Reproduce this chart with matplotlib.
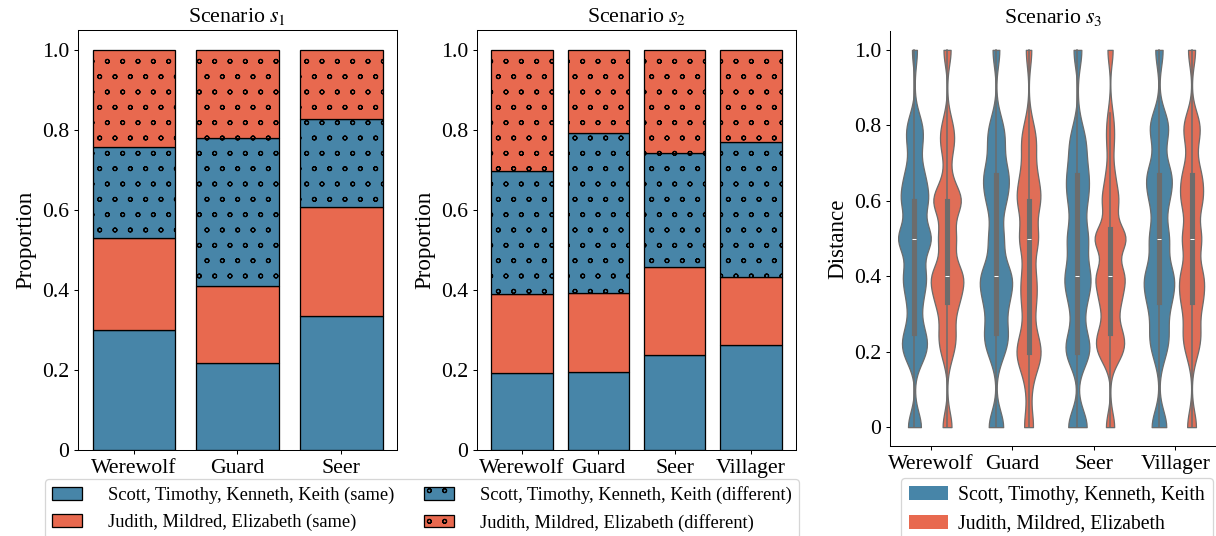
import numpy as np
import pandas as pd
import seaborn as sns
import matplotlib
matplotlib.use("Agg")
import matplotlib.hatch
from matplotlib import pyplot as plt
from matplotlib.patches import Patch
from matplotlib.ticker import FuncFormatter

plt.rcParams['font.family'] = ['Liberation Serif', 'DejaVu Serif']
plt.rcParams['mathtext.fontset'] = 'stix'
plt.rcParams['hatch.linewidth'] = 0.9
# smaller rings for the 'o' hatch
matplotlib.hatch.SmallCircles.size = 0.13

blue = '#4785A8'
red = '#E8694F'
male_name = 'Scott, Timothy, Kenneth, Keith'
female_name = 'Judith, Mildred, Elizabeth'

# scenario s1 proportions (bottom -> top)
roles_s1 = ['Werewolf', 'Guard', 'Seer']
male_same_s1 = [0.300, 0.218, 0.334]
female_same_s1 = [0.230, 0.193, 0.273]
male_diff_s1 = [0.228, 0.370, 0.220]
female_diff_s1 = [0.242, 0.219, 0.173]

# scenario s2 proportions
roles_s2 = ['Werewolf', 'Guard', 'Seer', 'Villager']
male_same_s2 = [0.193, 0.195, 0.237, 0.262]
female_same_s2 = [0.198, 0.197, 0.220, 0.171]
male_diff_s2 = [0.306, 0.401, 0.285, 0.337]
female_diff_s2 = [0.303, 0.207, 0.258, 0.230]

# scenario s3 distances: how many times each distance value occurs
roles_s3 = ['Werewolf', 'Guard', 'Seer', 'Villager']
dist_values = [0, 0.1, 0.167, 0.2, 0.25, 0.333, 0.4, 0.5, 0.6, 0.667, 0.75, 0.8, 0.833, 1.0]
werewolf_male = [13, 0, 0, 17, 13, 11, 19, 31, 22, 15, 9, 11, 0, 5]
werewolf_female = [10, 0, 0, 9, 13, 20, 30, 18, 29, 5, 11, 8, 0, 8]
guard_male = [15, 0, 0, 10, 17, 18, 26, 14, 15, 20, 11, 9, 0, 7]
guard_female = [11, 5, 10, 18, 10, 14, 14, 22, 24, 15, 14, 6, 0, 7]
seer_male = [19, 0, 0, 20, 7, 12, 21, 19, 14, 16, 13, 3, 0, 8]
seer_female = [8, 0, 0, 18, 16, 16, 24, 29, 14, 7, 5, 4, 2, 5]
villager_male = [14, 0, 0, 8, 12, 16, 22, 17, 13, 19, 4, 15, 0, 7]
villager_female = [10, 0, 0, 8, 14, 18, 21, 20, 19, 17, 6, 15, 0, 8]

W, H = 1216, 536
fig = plt.figure(figsize=(W / 92, H / 92), dpi=92)


def rect(l, r, t, b):
    return [l / W, 1 - b / H, (r - l) / W, (b - t) / H]


zero_fmt = FuncFormatter(lambda v, p: '0' if abs(v) < 1e-9 else '%.1f' % v)


def stacked(ax, roles, layers, title):
    x = np.arange(len(roles))
    bottom = np.zeros(len(roles))
    for vals, col, hatch in layers:
        ax.bar(x, vals, 0.8, bottom=bottom, color=col, edgecolor='black',
               linewidth=1, hatch=hatch)
        bottom += np.array(vals)
    ax.set_xticks(x, roles)
    ax.set_ylim(0, 1.05)
    ax.set_yticks([0, 0.2, 0.4, 0.6, 0.8, 1.0])
    ax.yaxis.set_major_formatter(zero_fmt)
    ax.set_ylabel('Proportion', fontsize=18)
    ax.set_title(title, fontsize=17)
    ax.tick_params(labelsize=17)


ax1 = fig.add_axes(rect(78, 397, 30, 450))
stacked(ax1, roles_s1, [(male_same_s1, blue, None), (female_same_s1, red, None),
                        (male_diff_s1, blue, 'o'), (female_diff_s1, red, 'o')],
        'Scenario $s_1$')

ax2 = fig.add_axes(rect(477, 796, 30, 450))
stacked(ax2, roles_s2, [(male_same_s2, blue, None), (female_same_s2, red, None),
                        (male_diff_s2, blue, 'o'), (female_diff_s2, red, 'o')],
        'Scenario $s_2$')

handles = [Patch(facecolor=blue, edgecolor='black', label=male_name + ' (same)'),
           Patch(facecolor=red, edgecolor='black', label=female_name + ' (same)'),
           Patch(facecolor=blue, edgecolor='black', hatch='o', label=male_name + ' (different)'),
           Patch(facecolor=red, edgecolor='black', hatch='o', label=female_name + ' (different)')]
fig.legend(handles=handles, loc='upper center', bbox_to_anchor=(422 / W, 1 - 479 / H),
           ncol=2, fontsize=14.5, handlelength=1.6, handletextpad=1.4,
           columnspacing=1.6, borderaxespad=0)

# violin data frame
rows = []
counts = {('Werewolf', male_name): werewolf_male, ('Werewolf', female_name): werewolf_female,
          ('Guard', male_name): guard_male, ('Guard', female_name): guard_female,
          ('Seer', male_name): seer_male, ('Seer', female_name): seer_female,
          ('Villager', male_name): villager_male, ('Villager', female_name): villager_female}
for (role, group), c in counts.items():
    for v in np.repeat(dist_values, c):
        rows.append((role, group, v))
df = pd.DataFrame(rows, columns=['role', 'group', 'distance'])

ax3 = fig.add_axes(rect(890, 1216, 31, 446))
sns.violinplot(data=df, x='role', y='distance', hue='group', order=roles_s3,
               hue_order=[male_name, female_name], palette=[blue, red],
               cut=0, inner='box', bw_method=0.17, density_norm='area',
               linewidth=1, linecolor='#6c6c6c', saturation=0.9, legend=False,
               inner_kws=dict(box_width=4, whis_width=1.2), ax=ax3)
ax3.set_ylim(-0.05, 1.05)
ax3.set_yticks([0, 0.2, 0.4, 0.6, 0.8, 1.0])
ax3.yaxis.set_major_formatter(zero_fmt)
ax3.set_xlabel('')
ax3.set_ylabel('Distance', fontsize=18)
ax3.set_title('Scenario $s_3$', fontsize=17)
ax3.tick_params(labelsize=17)
ax3.spines['top'].set_visible(False)
ax3.spines['right'].set_visible(False)
ax3.legend(handles=[Patch(facecolor=blue, label=male_name),
                    Patch(facecolor=red, label=female_name)],
           loc='upper right', bbox_to_anchor=(1213 / W, 1 - 478 / H),
           bbox_transform=fig.transFigure, fontsize=15.5, handlelength=2.0,
           handletextpad=0.5, borderaxespad=0)

fig.savefig('out.png', dpi=92)
